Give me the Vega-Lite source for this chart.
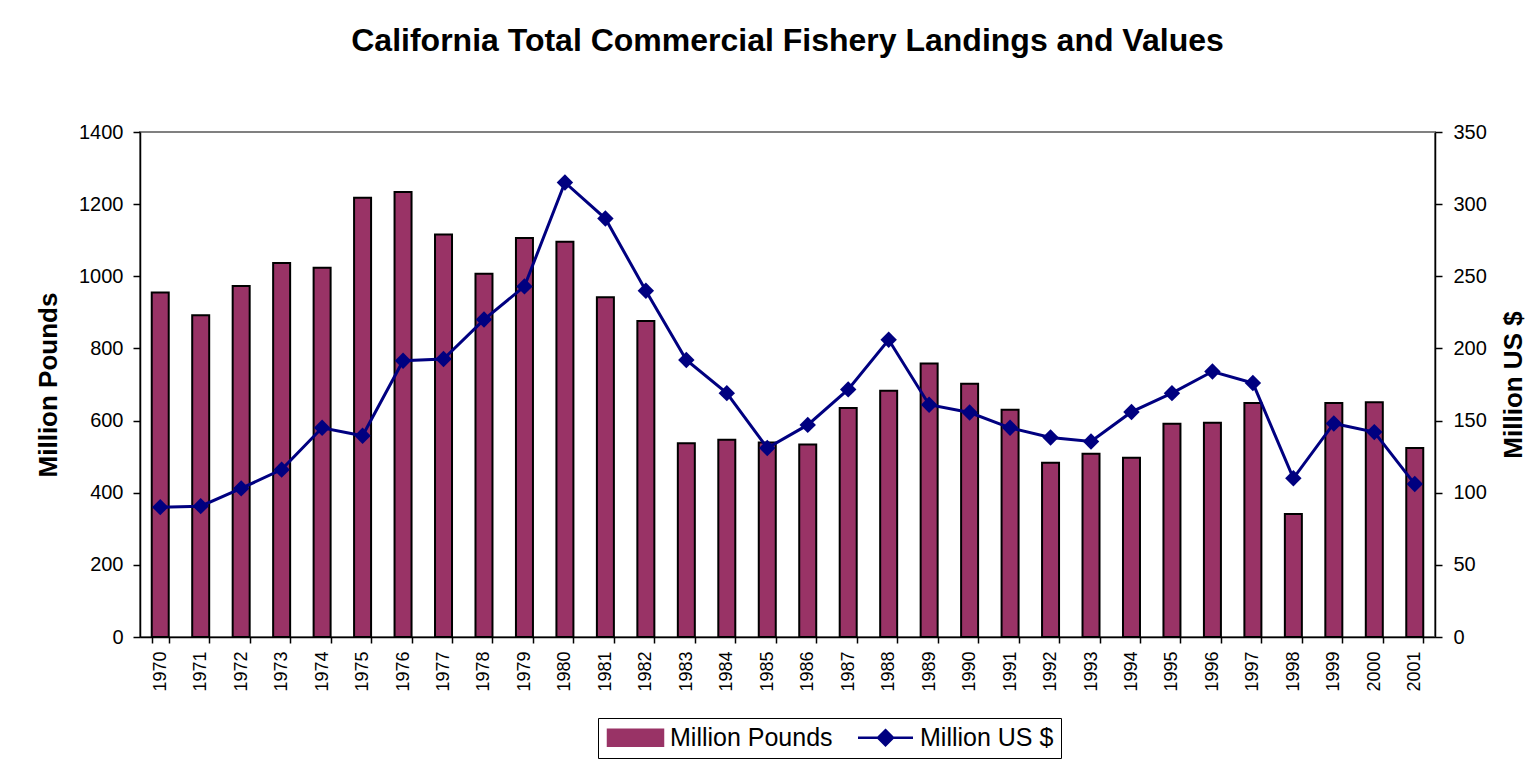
{
  "$schema": "https://vega.github.io/schema/vega-lite/v6.json",
  "autosize": {"type": "none"},
  "width": 1295,
  "height": 505,
  "padding": {"left": 140, "top": 132, "right": 105, "bottom": 124},
  "background": "white",
  "config": {
    "font": "Liberation Sans",
    "view": {"stroke": "#808080", "strokeWidth": 2},
    "axis": {"grid": false, "domainColor": "black", "tickColor": "black", "labelColor": "black", "titleColor": "black", "labelFont": "Liberation Sans", "titleFont": "Liberation Sans", "domainWidth": 1.5, "tickWidth": 1.5}
  },
  "title": {
    "text": "California Total Commercial Fishery Landings and Values",
    "fontSize": 32,
    "fontWeight": "bold",
    "font": "Liberation Sans",
    "color": "black",
    "anchor": "middle",
    "offset": 64
  },
  "data": {
    "values": [
      {"year": "1970", "pounds": 955, "dollars": 90},
      {"year": "1971", "pounds": 892, "dollars": 90.7},
      {"year": "1972", "pounds": 973, "dollars": 103},
      {"year": "1973", "pounds": 1037, "dollars": 116},
      {"year": "1974", "pounds": 1024, "dollars": 145},
      {"year": "1975", "pounds": 1218, "dollars": 139.5},
      {"year": "1976", "pounds": 1234, "dollars": 191.5},
      {"year": "1977", "pounds": 1116, "dollars": 192.7},
      {"year": "1978", "pounds": 1007, "dollars": 220},
      {"year": "1979", "pounds": 1106, "dollars": 243},
      {"year": "1980", "pounds": 1096, "dollars": 315},
      {"year": "1981", "pounds": 942, "dollars": 290},
      {"year": "1982", "pounds": 876, "dollars": 240},
      {"year": "1983", "pounds": 537, "dollars": 192},
      {"year": "1984", "pounds": 547, "dollars": 169},
      {"year": "1985", "pounds": 539, "dollars": 131},
      {"year": "1986", "pounds": 534, "dollars": 147},
      {"year": "1987", "pounds": 635, "dollars": 171.6},
      {"year": "1988", "pounds": 683, "dollars": 206},
      {"year": "1989", "pounds": 758, "dollars": 161},
      {"year": "1990", "pounds": 702, "dollars": 155.6},
      {"year": "1991", "pounds": 630, "dollars": 145},
      {"year": "1992", "pounds": 483, "dollars": 138.3},
      {"year": "1993", "pounds": 508, "dollars": 135.5},
      {"year": "1994", "pounds": 497, "dollars": 156},
      {"year": "1995", "pounds": 591, "dollars": 169},
      {"year": "1996", "pounds": 594, "dollars": 184},
      {"year": "1997", "pounds": 649, "dollars": 176},
      {"year": "1998", "pounds": 341, "dollars": 110},
      {"year": "1999", "pounds": 649, "dollars": 148},
      {"year": "2000", "pounds": 651, "dollars": 142},
      {"year": "2001", "pounds": 524, "dollars": 106}
    ]
  },
  "encoding": {
    "x": {
      "field": "year",
      "type": "ordinal",
      "scale": {"paddingInner": 0.58, "paddingOuter": 0.29},
      "axis": {"title": null, "labelAngle": 270, "labelFontSize": 18, "tickBand": "extent", "tickSize": 6, "labelPadding": 8}
    }
  },
  "layer": [
    {
      "mark": {"type": "bar", "stroke": "black", "strokeWidth": 2},
      "encoding": {
        "y": {
          "field": "pounds",
          "type": "quantitative",
          "scale": {"domain": [0, 1400]},
          "axis": {"title": "Million Pounds", "format": "d", "titleFontSize": 26, "titleFontWeight": "bold", "labelFontSize": 20, "values": [0, 200, 400, 600, 800, 1000, 1200, 1400], "tickSize": 7, "labelPadding": 10, "titlePadding": 17}
        },
        "color": {
          "datum": "Million Pounds",
          "type": "nominal",
          "scale": {"domain": ["Million Pounds", "Million US $"], "range": ["#993366", "#000080"]},
          "legend": {
            "title": null,
            "orient": "none",
            "legendX": 458,
            "legendY": 586,
            "direction": "horizontal",
            "strokeColor": "black",
            "fillColor": "white",
            "padding": 7,
            "labelFontSize": 25,
            "labelColor": "black",
            "labelFont": "Liberation Sans",
            "labelLimit": 0,
            "symbolSize": 400,
            "symbolOffset": 18,
            "labelOffset": 22,
            "columnPadding": 20,
            "symbolType": {"expr": "datum.value === 'Million Pounds' ? 'M-2.75,-0.8H2.75V0.8H-2.75Z' : 'M-2.75,0H-0.75M0.75,0H2.75M0,-0.75L0.75,0L0,0.75L-0.75,0Z'"},
            "symbolFillColor": {"expr": "datum.value === 'Million Pounds' ? '#993366' : '#000080'"},
            "symbolStrokeColor": {"expr": "datum.value === 'Million Pounds' ? 'black' : '#000080'"},
            "symbolStrokeWidth": 2.5,
            "symbolOpacity": 1
          }
        }
      }
    },
    {
      "mark": {"type": "line", "color": "#000080", "strokeWidth": 3},
      "encoding": {
        "y": {
          "field": "dollars",
          "type": "quantitative",
          "scale": {"domain": [0, 350]},
          "axis": {"orient": "right", "title": "Million US $", "titleFontSize": 26, "titleFontWeight": "bold", "titleAngle": 270, "titleBaseline": "top", "labelFontSize": 20, "values": [0, 50, 100, 150, 200, 250, 300, 350], "tickSize": 7, "labelPadding": 11, "titlePadding": 14}
        },
        "color": {"datum": "Million US $", "type": "nominal"}
      }
    },
    {
      "mark": {"type": "point", "shape": "diamond", "filled": true, "size": 270, "color": "#000080", "opacity": 1},
      "encoding": {
        "y": {"field": "dollars", "type": "quantitative", "scale": {"domain": [0, 350]}, "axis": null}
      }
    }
  ],
  "resolve": {"scale": {"y": "independent", "color": "shared"}}
}
